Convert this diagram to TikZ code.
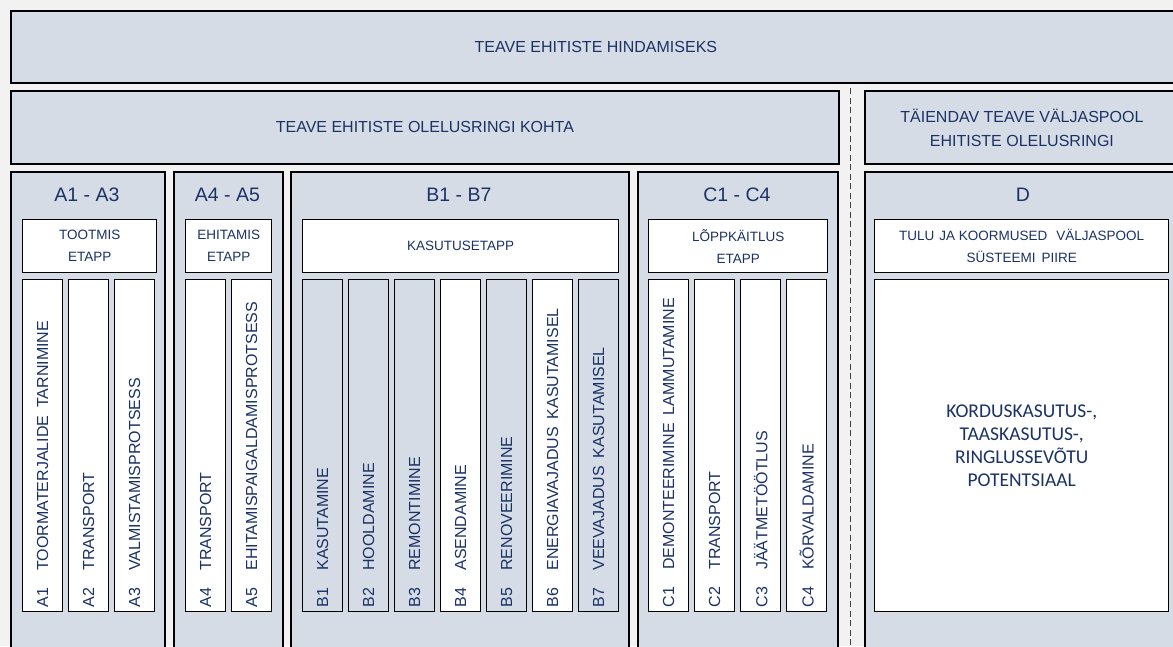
\documentclass[tikz,border=0pt]{standalone}
\usepackage{fontspec}
\setmainfont{Liberation Sans}
\newfontfamily\potfont{Carlito}
\definecolor{pagebg}{HTML}{F2F2F2}
\definecolor{panelfill}{HTML}{D6DCE5}
\definecolor{ink}{HTML}{1A3265}
% vertical strip label: code, gap, description
\newcommand\stripname[2]{#1\hspace{17pt}#2}
\newcommand\wgap{\hspace{8pt}}
\begin{document}
\begin{tikzpicture}[x=1pt,y=-1pt,
  panel/.style={draw=black, line width=1.8pt, fill=panelfill, inner sep=0pt,
    anchor=north west, text=ink, align=center},
  card/.style={draw=black, line width=1.4pt, fill=white, inner sep=0pt,
    anchor=north west, text=ink, align=center},
  subhead/.style={card, minimum height=53pt,
    font=\fontsize{13.5}{22}\selectfont},
  strip/.style={card, minimum width=40pt, minimum height=332pt},
  tintstrip/.style={strip, fill=panelfill},
  vlabel/.style={rotate=90, anchor=west, inner sep=0pt, text=ink,
    font=\fontsize{16}{18}\selectfont},
  heading/.style={inner sep=0pt, text=ink, font=\fontsize{19.5}{22}\selectfont},
  title/.style={font=\fontsize{16}{24}\selectfont}
]
\useasboundingbox (0,0) rectangle (1173,646);
\fill[pagebg] (0,0) rectangle (1173,646);
\clip (0,0) rectangle (1173,646);

% dashed separator between life cycle and outside information
\coordinate (sepTop) at (850,88);
\coordinate (sepBot) at (850,650);
\draw[line width=0.9pt, black!75, dash pattern=on 6pt off 3.5pt] (sepTop) -- (sepBot);

% top rows
\node[panel, title, minimum width=1170pt, minimum height=72pt] (top) at (10,10)
  {TEAVE EHITISTE HINDAMISEKS};
\node[panel, title, minimum width=828pt, minimum height=73pt] (life) at (10,90)
  {TEAVE EHITISTE OLELUSRINGI KOHTA};
\node[panel, title, minimum width=314pt, minimum height=73pt] (extra) at (864,90)
  {TÄIENDAV TEAVE VÄLJASPOOL\\EHITISTE OLELUSRINGI};

% stage columns
\node[panel, minimum width=154pt, minimum height=500pt] (colA) at (10,171) {};
\node[panel, minimum width=109pt, minimum height=500pt] (colAA) at (173,171) {};
\node[panel, minimum width=338pt, minimum height=500pt] (colB) at (290,171) {};
\node[panel, minimum width=200pt, minimum height=500pt] (colC) at (637,171) {};
\node[panel, minimum width=318pt, minimum height=500pt] (colD) at (864,171) {};

\node[heading] (hA) at (87,195) {A1 - A3};
\node[heading] (hAA) at (227.5,195) {A4 - A5};
\node[heading] (hB) at (459,195) {B1 - B7};
\node[heading] (hC) at (737,195) {C1 - C4};
\node[heading] (hD) at (1023,195) {D};

% stage headers
\node[subhead, minimum width=134pt] (sA) at (22,219) {TOOTMIS\\ETAPP};
\node[subhead, minimum width=86pt] (sAA) at (185,219) {EHITAMIS\\ETAPP};
\node[subhead, minimum width=316pt] (sB) at (302,219) {KASUTUSETAPP};
\node[subhead, minimum width=179pt] (sC) at (648,219) {LÕPPKÄITLUS\\ETAPP};
\node[subhead, minimum width=294pt] (sD) at (874,219)
  {TULU\hspace{5pt}JA KOORMUSED\hspace{9pt}VÄLJASPOOL\\SÜSTEEMI\hspace{6pt}PIIRE};

% module strips
\node[strip] (a1) at (22,279) {};
\node[strip] (a2) at (68,279) {};
\node[strip] (a3) at (114,279) {};
\node[strip] (a4) at (185,279) {};
\node[strip] (a5) at (231,279) {};
\node[tintstrip] (b1) at (302,279) {};
\node[tintstrip] (b2) at (348,279) {};
\node[tintstrip] (b3) at (394,279) {};
\node[strip] (b4) at (440,279) {};
\node[tintstrip] (b5) at (486,279) {};
\node[strip] (b6) at (532,279) {};
\node[tintstrip] (b7) at (578,279) {};
\node[strip] (c1) at (648,279) {};
\node[strip] (c2) at (694,279) {};
\node[strip] (c3) at (740,279) {};
\node[strip] (c4) at (786,279) {};

\node[vlabel] (ta1) at ([yshift=5pt]a1.south) {\stripname{A1}{TOORMATERJALIDE\wgap TARNIMINE}};
\node[vlabel] (ta2) at ([yshift=5pt]a2.south) {\stripname{A2}{TRANSPORT}};
\node[vlabel] (ta3) at ([yshift=5pt]a3.south) {\stripname{A3}{VALMISTAMISPROTSESS}};
\node[vlabel] (ta4) at ([yshift=5pt]a4.south) {\stripname{A4}{TRANSPORT}};
\node[vlabel] (ta5) at ([yshift=5pt]a5.south) {\stripname{A5}{EHITAMISPAIGALDAMISPROTSESS}};
\node[vlabel] (tb1) at ([yshift=5pt]b1.south) {\stripname{B1}{KASUTAMINE}};
\node[vlabel] (tb2) at ([yshift=5pt]b2.south) {\stripname{B2}{HOOLDAMINE}};
\node[vlabel] (tb3) at ([yshift=5pt]b3.south) {\stripname{B3}{REMONTIMINE}};
\node[vlabel] (tb4) at ([yshift=5pt]b4.south) {\stripname{B4}{ASENDAMINE}};
\node[vlabel] (tb5) at ([yshift=5pt]b5.south) {\stripname{B5}{RENOVEERIMINE}};
\node[vlabel] (tb6) at ([yshift=5pt]b6.south) {\stripname{B6}{ENERGIAVAJADUS\wgap KASUTAMISEL}};
\node[vlabel] (tb7) at ([yshift=5pt]b7.south) {\stripname{B7}{VEEVAJADUS\wgap KASUTAMISEL}};
\node[vlabel] (tc1) at ([yshift=5pt]c1.south) {\stripname{C1}{DEMONTEERIMINE\wgap LAMMUTAMINE}};
\node[vlabel] (tc2) at ([yshift=5pt]c2.south) {\stripname{C2}{TRANSPORT}};
\node[vlabel] (tc3) at ([yshift=5pt]c3.south) {\stripname{C3}{JÄÄTMETÖÖTLUS}};
\node[vlabel] (tc4) at ([yshift=5pt]c4.south) {\stripname{C4}{KÕRVALDAMINE}};

% potential beyond the system boundary
\node[card, minimum width=294pt, minimum height=332pt,
  font=\potfont\fontsize{19.5}{23}\selectfont] (pot) at (874,279)
  {KORDUSKASUTUS-,\\TAASKASUTUS-,\\RINGLUSSEVÕTU\\POTENTSIAAL};
\end{tikzpicture}
\end{document}
